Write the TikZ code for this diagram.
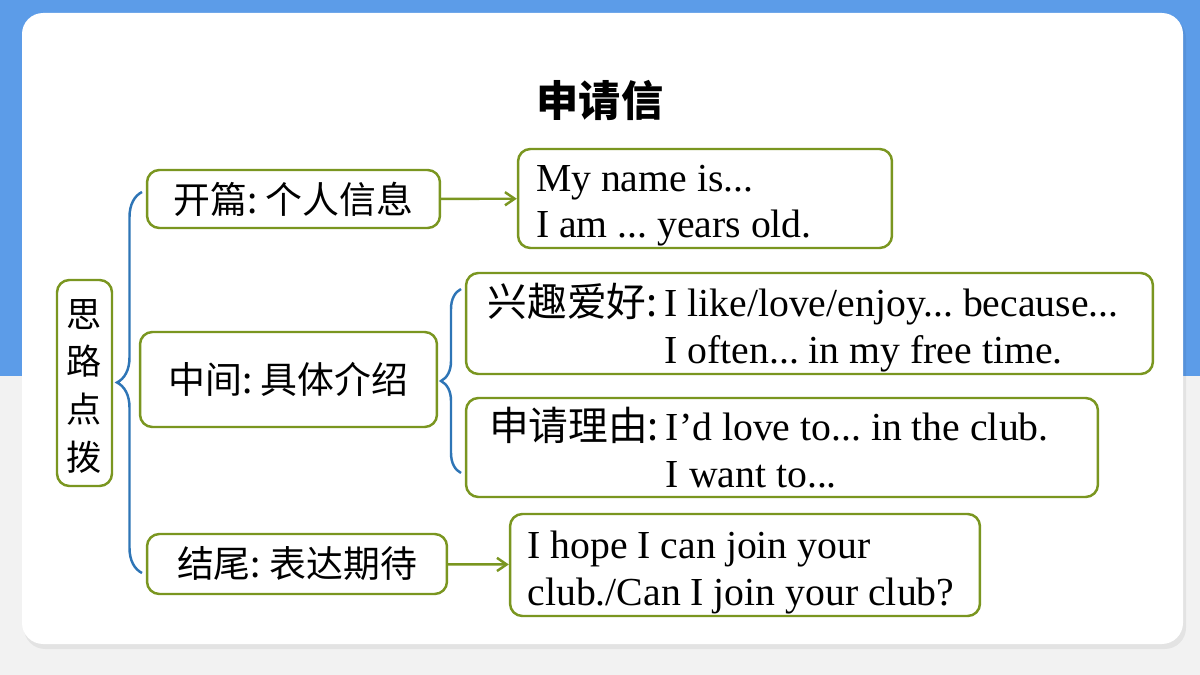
\documentclass[tikz,border=0pt]{standalone}
\usepackage{fontspec}
\setmainfont{Liberation Serif}
\newfontfamily\cjk{Noto Sans CJK SC}
\usetikzlibrary{decorations.pathreplacing,arrows.meta}
\definecolor{olive}{RGB}{122,150,32}
\definecolor{braceblue}{RGB}{46,117,182}
\definecolor{bgblue}{RGB}{92,156,232}
\definecolor{bggrey}{RGB}{242,242,242}
\newcommand\zeilen[3]{\raisebox{-#1}[\height][\depth]{\begin{tabular}{@{}#2@{}}#3\end{tabular}}}

\begin{document}
\frenchspacing
\begin{tikzpicture}[x=0.02cm, y=-0.02cm,
	box/.style={draw=olive, line width=1.4pt, rounded corners=7pt, fill=white, inner sep=0pt},
	zh/.style={font=\cjk\fontsize{21}{26}\selectfont},
	en/.style={font=\fontsize{22.6}{26.6}\selectfont},
	pfeil/.style={-{Straight Barb[length=5.5pt, width=7.5pt]}, draw=olive, line width=1.4pt},
	kuohao/.style={draw=braceblue, line width=1.4pt, decorate, decoration={brace, amplitude=#1}}]
		
		\useasboundingbox (0,0) rectangle (1200,675);
		\fill[bggrey] (0,0) rectangle (1200,675);
		\fill[bgblue] (0,0) rectangle (1200,376);
		\fill[black, opacity=0.06, rounded corners=12pt] (24,17) rectangle (1186,649);
		\fill[white, rounded corners=12pt] (22,13) rectangle (1183,644);
		
		\node(0) at (600,100)[font=\cjk\bfseries\fontsize{24}{28}\selectfont]{申请信};
		\node(1) at (84.5,383)[box, minimum width=1.1cm, minimum height=4.12cm, font=\cjk\fontsize{20}{27.2}\selectfont]{\zeilen{3.6pt}{c}{思\\路\\点\\拨}};
		\node(2) at (293.5,199)[box, zh, minimum width=5.86cm, minimum height=1.16cm]{开篇: 个人信息};
		\node(3) at (288.5,379.5)[box, zh, minimum width=5.94cm, minimum height=1.9cm]{中间: 具体介绍};
		\node(4) at (297,564)[box, zh, minimum width=6cm, minimum height=1.2cm]{结尾: 表达期待};
		\node(5) at (705,198.5)[box, en, minimum width=7.48cm, minimum height=1.98cm]{\zeilen{3.8pt}{p{6.76cm}}{My name is...\\I am ... years old.}};
		\node(6) at (809.5,323.5)[box, en, minimum width=13.74cm, minimum height=2.02cm]{\zeilen{3.8pt}{l@{}p{9.34cm}}{{\cjk 兴趣爱好:}\hspace{4pt} & I like/love/enjoy... because...\\ & I often... in my free time.}};
		\node(7) at (782,447.5)[box, en, minimum width=12.64cm, minimum height=1.98cm]{\zeilen{3.8pt}{l@{}p{8.18cm}}{{\cjk 申请理由:}\hspace{4pt} & I’d love to... in the club.\\ & I want to...}};
		\node(8) at (745,565)[box, en, minimum width=9.4cm, minimum height=2.04cm]{\zeilen{4.2pt}{p{8.7cm}}{I hope I can join your\\club./Can I join your club?}};
		\draw[pfeil] (2) -- (5);
		\draw[pfeil] (4) -- (8);
		\draw[kuohao=0.5cm] (142,573) -- (142,192);
		\draw[kuohao=0.4cm] (461,473) -- (461,289);
		
	\end{tikzpicture}
\end{document}
